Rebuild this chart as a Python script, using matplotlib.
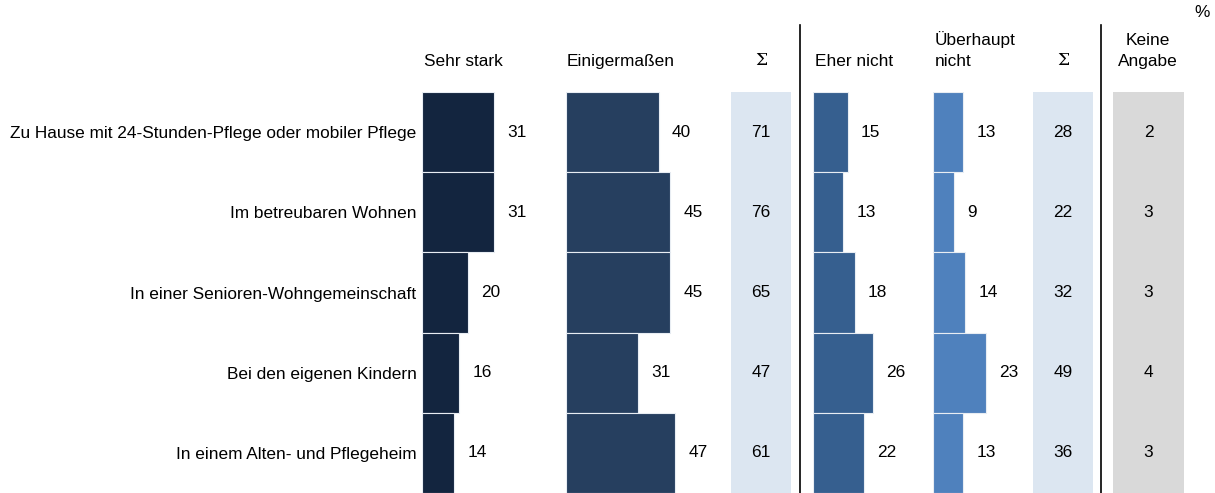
import matplotlib
matplotlib.use("Agg")
import matplotlib.pyplot as plt
from matplotlib.lines import Line2D

plt.rcParams['font.family'] = ['Liberation Sans', 'DejaVu Sans']

categories = [
    "Zu Hause mit 24-Stunden-Pflege oder mobiler Pflege",
    "Im betreubaren Wohnen",
    "In einer Senioren-Wohngemeinschaft",
    "Bei den eigenen Kindern",
    "In einem Alten- und Pflegeheim",
]
sehr_stark = [31, 31, 20, 16, 14]
einigermassen = [40, 45, 45, 31, 47]
sum_pos = [71, 76, 65, 47, 61]
eher_nicht = [15, 13, 18, 26, 22]
ueberhaupt_nicht = [13, 9, 14, 23, 13]
sum_neg = [28, 22, 32, 49, 36]
keine_angabe = [2, 3, 3, 4, 3]

headers = ["Sehr stark", "Einigermaßen", "Σ", "Eher nicht", "Überhaupt\nnicht", "Σ", "Keine\nAngabe"]

W, H = 1215, 493
fig = plt.figure(figsize=(W / 100, H / 100), dpi=100)

PX_PER_UNIT = 2.32
TOP, BOTTOM = 92, 493
FS = 12.4


def fx(x):
    return x / W


def fy(y):
    return 1 - y / H


def make_axes(x0, x1):
    ax = fig.add_axes([fx(x0), fy(BOTTOM), fx(x1) - fx(x0), fy(TOP) - fy(BOTTOM)])
    ax.set_ylim(len(categories) - 0.5, -0.5)
    for s in ax.spines.values():
        s.set_visible(False)
    ax.set_xticks([])
    ax.set_yticks([])
    ax.patch.set_alpha(0)
    return ax


def bar_column(x0, x1, values, color, ylabels=None):
    ax = make_axes(x0, x1)
    ax.set_xlim(0, (x1 - x0) / PX_PER_UNIT)
    ypos = range(len(values))
    ax.barh(ypos, values, height=1.0, color=color, edgecolor='#e8edf3', linewidth=0.8)
    for y, v in zip(ypos, values):
        ax.annotate(str(v), (v, y), xytext=(9.5, 0), textcoords='offset points',
                    ha='left', va='center', fontsize=FS, color='black')
    if ylabels is not None:
        ax.set_yticks(list(ypos))
        ax.set_yticklabels(ylabels, fontsize=FS)
        ax.tick_params(axis='y', length=0, pad=4)
    return ax


def box_column(x0, x1, values, color):
    ax = make_axes(x0, x1)
    ax.set_xlim(0, 1)
    ax.patch.set_alpha(1)
    ax.set_facecolor(color)
    for y, v in enumerate(values):
        ax.text(0.5, y, str(v), ha='center', va='center', fontsize=FS, color='black')
    return ax


bar_column(422, 560, sehr_stark, '#13253f', ylabels=categories)
bar_column(566, 725, einigermassen, '#263f5f')
box_column(731, 791, sum_pos, '#dce6f1')
bar_column(813, 925, eher_nicht, '#365f8f')
bar_column(933, 1028, ueberhaupt_nicht, '#4f81bd')
box_column(1033, 1093, sum_neg, '#dce6f1')
box_column(1113, 1184, keine_angabe, '#d9d9d9')

# headers
hdr_pos = [(424, 'left'), (567, 'left'), (761, 'center'), (815, 'left'),
           (935, 'left'), (1063, 'center'), (1148, 'center')]
for (x, ha), h in zip(hdr_pos, headers):
    if h == "Σ":
        fig.text(fx(x), fy(69), h, ha=ha, va='bottom', fontsize=FS,
                 family=['DejaVu Serif', 'DejaVu Sans'])
    else:
        fig.text(fx(x), fy(69), h, ha=ha, va='bottom', fontsize=FS, linespacing=1.5)

fig.text(fx(1210), fy(20), "%", ha='right', va='bottom', fontsize=FS)

# separators
for x in (800, 1101):
    fig.add_artist(Line2D([fx(x), fx(x)], [fy(25), fy(493)], color='black', linewidth=1.2))

fig.savefig("out.png", dpi=100)
